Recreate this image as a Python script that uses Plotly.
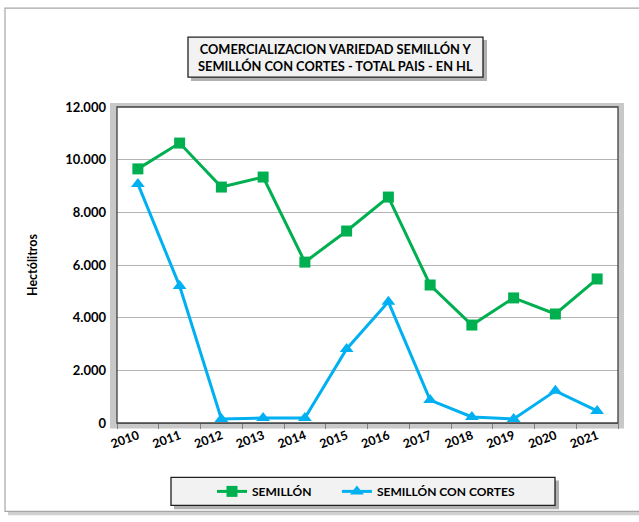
import plotly.graph_objects as go

years = ["2010", "2011", "2012", "2013", "2014", "2015", "2016", "2017", "2018", "2019", "2020", "2021"]
semillon = [9650, 10630, 8960, 9340, 6110, 7290, 8580, 5240, 3720, 4750, 4140, 5470]
semillon_cortes = [9080, 5200, 150, 190, 190, 2810, 4600, 870, 230, 150, 1220, 460]
y_ticks = [0, 2000, 4000, 6000, 8000, 10000, 12000]

GREEN = "#00B050"
BLUE = "#00B0F0"
FONT = "Lato"

W, H = 639, 522
L, R, T, B = 117, 618, 107, 423.5
pw, ph = R - L, B - T


def px(x):
    return (x - L) / pw


def py(y):
    return (B - y) / ph


fig = go.Figure()
fig.add_trace(go.Scatter(
    x=years, y=semillon, name="SEMILLÓN" + "\u00a0" * 7, mode="lines+markers",
    line=dict(color=GREEN, width=3),
    marker=dict(symbol="square", size=11, color=GREEN),
))
fig.add_trace(go.Scatter(
    x=years, y=semillon_cortes, name="SEMILLÓN CON CORTES", mode="lines+markers",
    line=dict(color=BLUE, width=3),
    marker=dict(symbol="triangle-up", size=12, color=BLUE),
))

shapes = []
# outer frame shadow + frame
shapes.append(dict(type="rect", xref="paper", yref="paper", layer="below",
                   x0=px(8), x1=px(660), y0=py(516), y1=py(11),
                   fillcolor="#d0d0d0", line=dict(width=0)))
shapes.append(dict(type="rect", xref="paper", yref="paper", layer="below",
                   x0=px(5), x1=px(655), y0=py(512), y1=py(8),
                   fillcolor="white", line=dict(color="#a6a6a6", width=1.2)))
# plot area shadow + area
shapes.append(dict(type="rect", xref="paper", yref="paper", layer="below",
                   x0=px(110), x1=px(624), y0=py(429), y1=py(103),
                   fillcolor="#c8c8c8", line=dict(width=0)))
shapes.append(dict(type="rect", xref="paper", yref="paper", layer="below",
                   x0=0, x1=1, y0=0, y1=1,
                   fillcolor="white", line=dict(width=0)))
shapes.append(dict(type="rect", xref="paper", yref="paper", layer="above",
                   x0=0, x1=1, y0=0, y1=1,
                   fillcolor="rgba(0,0,0,0)", line=dict(color="#404040", width=1.3)))
# title box shadow + box
shapes.append(dict(type="rect", xref="paper", yref="paper", layer="below",
                   x0=px(191), x1=px(487), y0=py(81), y1=py(40),
                   fillcolor="#b0b0b0", line=dict(width=0)))
shapes.append(dict(type="rect", xref="paper", yref="paper", layer="below",
                   x0=px(188), x1=px(483), y0=py(77), y1=py(37),
                   fillcolor="#f2f2f2", line=dict(color="#202020", width=1.3)))
# legend box shadow + box
shapes.append(dict(type="rect", xref="paper", yref="paper", layer="below",
                   x0=px(174), x1=px(559), y0=py(510), y1=py(481),
                   fillcolor="#b0b0b0", line=dict(width=0)))
shapes.append(dict(type="rect", xref="paper", yref="paper", layer="below",
                   x0=px(171), x1=px(555), y0=py(506), y1=py(478),
                   fillcolor="#f2f2f2", line=dict(color="#202020", width=1.3)))

annotations = [
    dict(xref="paper", yref="paper", x=px(335.5), y=py(57), xanchor="center", yanchor="middle",
         text="COMERCIALIZACION VARIEDAD SEMILLÓN Y<br>SEMILLÓN CON CORTES - TOTAL PAIS - EN HL",
         showarrow=False, align="center",
         font=dict(family=FONT, size=12.8, color="black", weight=700)),
]

fig.update_layout(
    width=W, height=H,
    margin=dict(l=L, r=W - R, t=T, b=H - B, pad=0),
    paper_bgcolor="white", plot_bgcolor="rgba(0,0,0,0)",
    separators=",.",
    font=dict(family=FONT, color="black"),
    shapes=shapes, annotations=annotations,
    showlegend=True,
    legend=dict(orientation="h", x=px(212), y=py(492), xanchor="left", yanchor="middle",
                bgcolor="rgba(0,0,0,0)", borderwidth=0,
                font=dict(family=FONT, size=12, color="black", weight=700),
                itemwidth=30, tracegroupgap=0),
    xaxis=dict(type="category", range=[-0.5, 11.5], showgrid=False,
               showline=True, linecolor="#808080", linewidth=1,
               ticks="outside", tickson="boundaries", ticklen=5, tickcolor="#808080",
               tickangle=-20, tickfont=dict(family=FONT, size=12.5, weight=700)),
    yaxis=dict(range=[0, 12000], tickvals=y_ticks, tickformat=",d",
               showgrid=True, gridcolor="#b4b4b4", gridwidth=1,
               zeroline=False, showline=False, ticks="", ticklabelstandoff=10,
               tickfont=dict(family=FONT, size=13, weight=700),
               title=dict(text="Hectólitros", standoff=24,
                          font=dict(family=FONT, size=12.5, weight=700))),
)

fig.write_html("out.html", config={"displayModeBar": False},
               post_script="document.body.style.margin='0';")
